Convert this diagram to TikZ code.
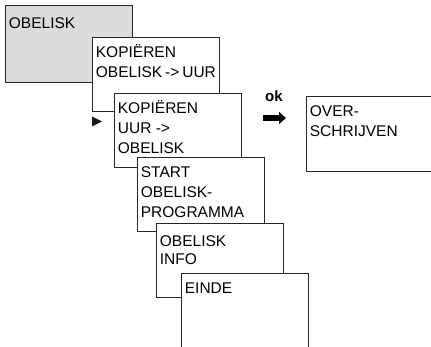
\documentclass[tikz,border=0pt]{standalone}
\usepackage{fontspec}
\setmainfont{Liberation Sans}
\usetikzlibrary{arrows.meta,positioning}

\newcommand{\screenlines}[2][74pt]{\parbox[b][#1][t]{120pt}{\rule{0pt}{20pt}#2}}

\begin{document}
\begin{tikzpicture}[x=1pt,y=-1pt,semithick]
	  \tikzstyle{screen}=[draw=black!85,fill=white,line width=0.8pt,inner xsep=3.5pt,
	                      inner ysep=0pt,minimum width=127pt,font=\fontsize{15.5pt}{20pt}\selectfont]
	  \tikzstyle{okarrow}=[line width=5.5pt,-{Triangle[length=7pt,width=12pt]}]
	  \useasboundingbox (0,0) rectangle (431,347);
	  \clip (0,0) rectangle (431,347);

	  \node[screen,fill=gray!28,anchor=north west] (Obelisk) at (5,5)
	        {\screenlines[77pt]{\rule{0pt}{23pt}OBELISK}};
	  \node[screen] (ObeliskUur) [below right=32pt and 87pt of Obelisk.north west]
	        {\screenlines{KOPIËREN\\OBELISK -> UUR}};
	  \node[screen] (UurObelisk) [below right=56pt and 22pt of ObeliskUur.north west]
	        {\screenlines{KOPIËREN\\UUR ->\\OBELISK}};
	  \node[screen] (Start) [below right=64pt and 23pt of UurObelisk.north west]
	        {\screenlines{START\\OBELISK-\\PROGRAMMA}};
		\node[screen] (Info) [below right=66pt and 19pt of Start.north west]
	        {\screenlines{\rule{0pt}{23pt}OBELISK\\[-2pt]INFO}};
		\node[screen] (Einde) [below right=50pt and 25pt of Info.north west]
	        {\screenlines[100pt]{EINDE}};
		\node[screen] (Overschrijven) [below right=3pt and 192pt of UurObelisk.north west]
	        {\screenlines[75pt]{OVER-\\SCHRIJVEN}};

	  % selection marker
	  \fill[black!90] (92,116.5) -- (102,121.5) -- (92,126.5) -- cycle;

	  \coordinate (OkRow) at (0,118);
	  \draw[okarrow,shorten <=21pt,shorten >=20pt] (UurObelisk.east |- OkRow)
	        -- node[above=14pt,inner sep=0pt,font=\bfseries\fontsize{15pt}{16pt}\selectfont] (Ok) {ok}
	        (Overschrijven.west |- OkRow);
\end{tikzpicture}
\end{document}
